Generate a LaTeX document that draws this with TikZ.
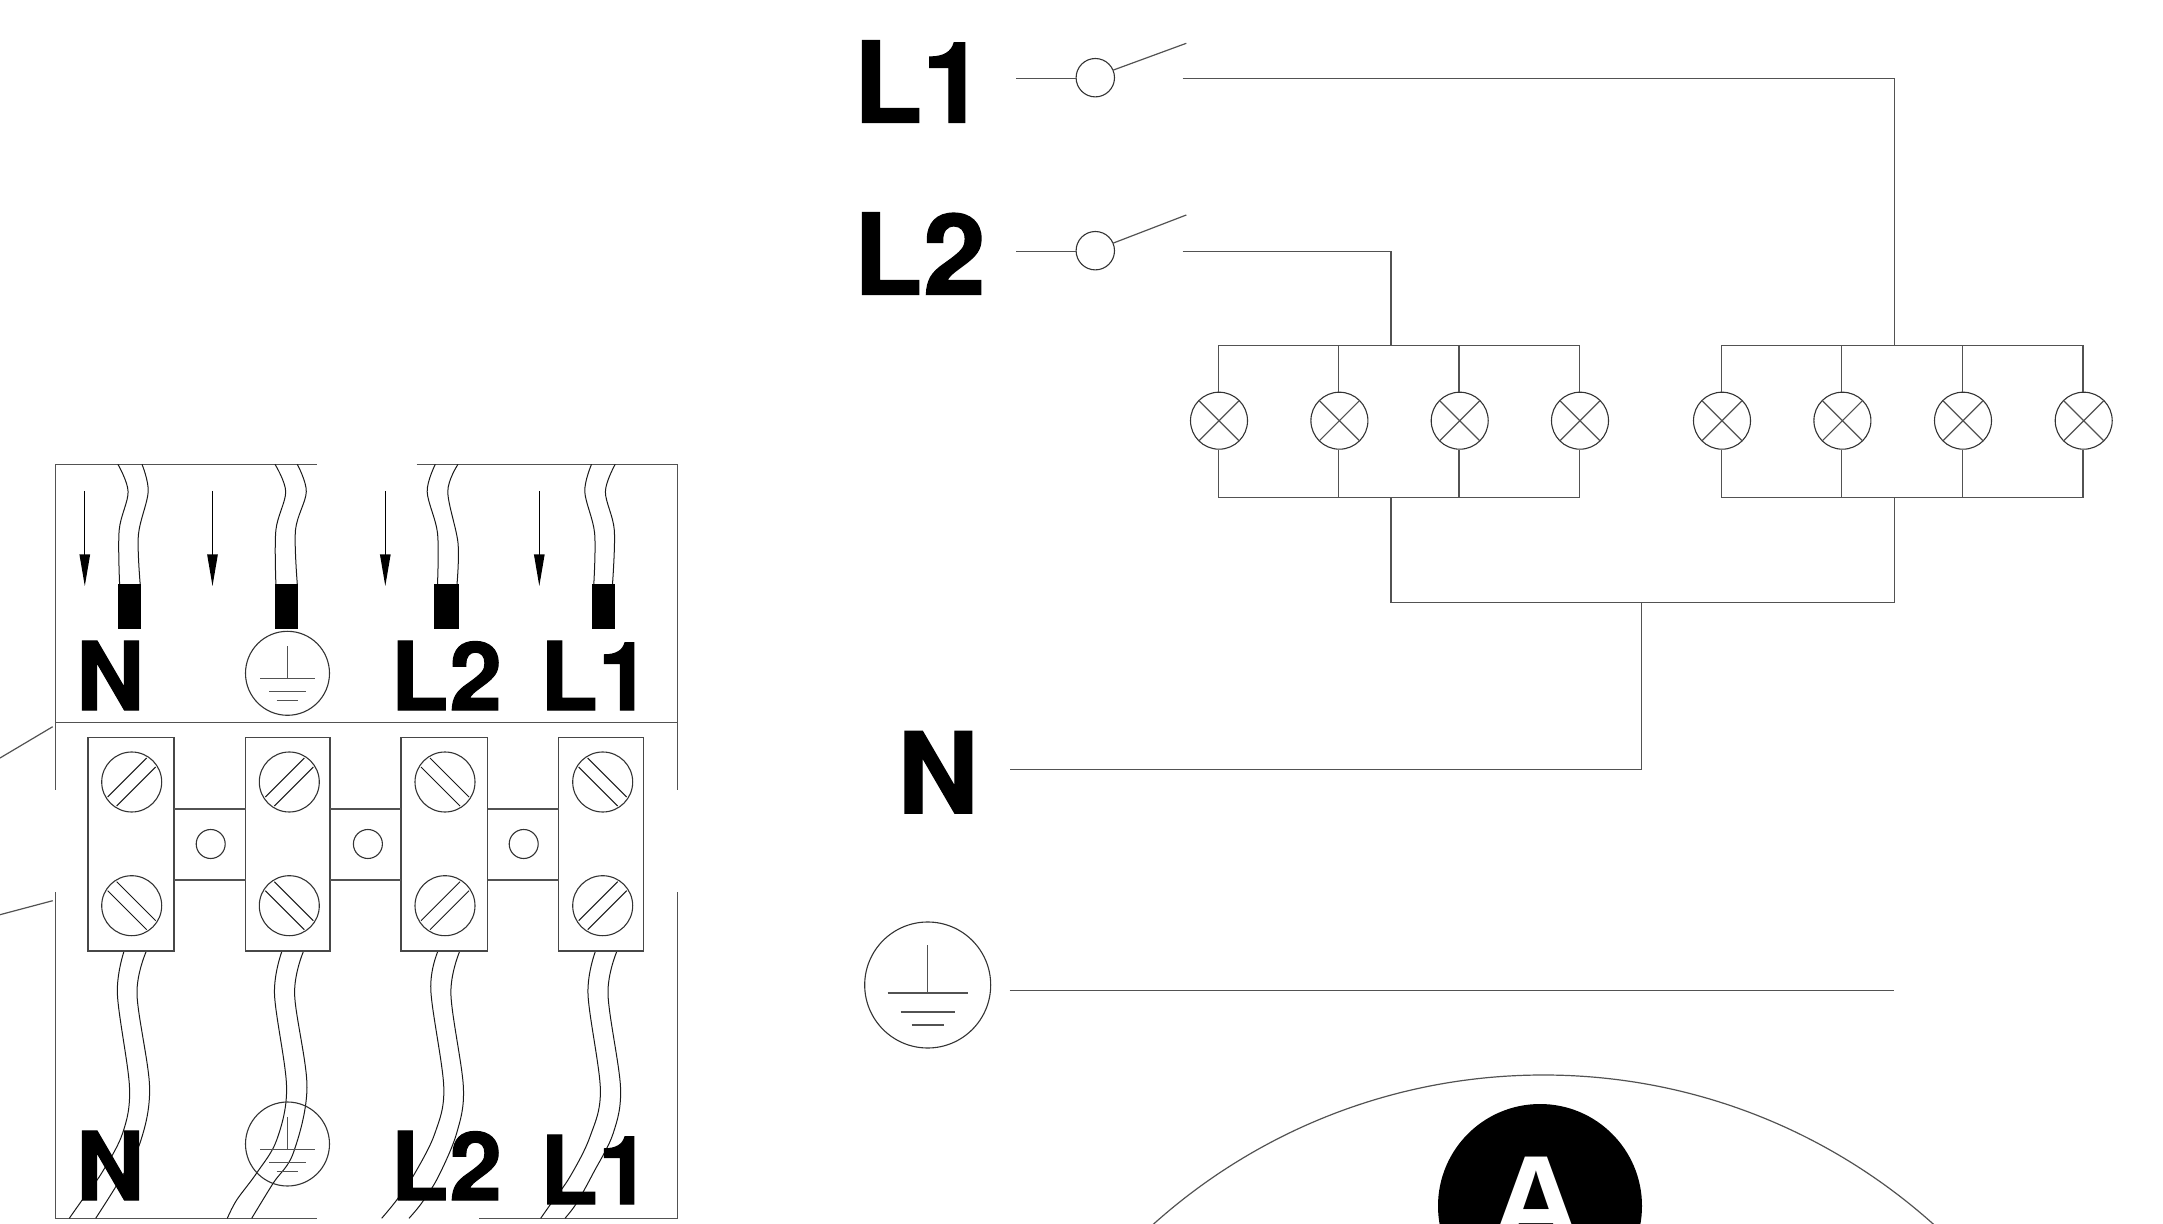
\documentclass[tikz,border=0pt]{standalone}
\usepackage{fontspec}
\setmainfont{Liberation Sans}
\newfontfamily\heavyf{TeX Gyre Heros}[BoldFeatures={FakeBold=1.2}]
\newcommand{\biglbl}{\fontsize{56.2}{56.2}\heavyf\bfseries}
\newcommand{\smalllbl}{\fontsize{47.4}{47.4}\heavyf\bfseries}
\newcommand{\pxwire}[1]{\draw[wire] plot[smooth,tension=0.55] coordinates {#1};}
\newcommand{\earthsym}[5]{% name,x,y,size,scale
  \node[ring,minimum size=#4] (#1) at (#2,#3) {};
  \begin{scope}[shift={(#2,#3)},scale=#5]
    \draw[ln] (0,-40) -- (0,8);
    \draw[ln] (-40,8) -- (40,8);
    \draw[ln] (-27,27) -- (27,27);
    \draw[ln] (-16,40) -- (16,40);
  \end{scope}
}
\tikzset{
  ln/.style={line width=0.6pt,draw=black!68},
  wire/.style={line width=0.5pt,draw=black!90},
  ring/.style={circle,draw=black!80,line width=0.55pt,inner sep=0pt,outer sep=0pt},
  lamp/.style={ring,minimum size=28.5pt},
  switchring/.style={ring,minimum size=19.2pt},
  screw/.style={ring,minimum size=30pt},
  pin/.style={ring,minimum size=14.5pt},
  termbox/.style={rectangle,draw=black!72,line width=0.55pt,inner sep=0pt,outer sep=0pt,minimum height=106.65pt},
  lbl/.style={inner sep=0pt,outer sep=0pt,anchor=base west,text=black},
}
\begin{document}
\begin{tikzpicture}[x=0.5pt,y=-0.5pt]
\useasboundingbox (0,0) rectangle (2163,1224);

% ---- terminal block enclosure
\coordinate (ctl) at (55.4,464.3);
\coordinate (ctm) at (316.5,464.3);
\coordinate (ctn) at (416.5,464.3);
\coordinate (ctr) at (677.7,464.3);
\coordinate (cml) at (55.4,722.7);
\coordinate (cmr) at (677.7,722.7);
\coordinate (cll) at (55.4,790);
\coordinate (clr) at (677.7,790);
\coordinate (cbl) at (55.4,892);
\coordinate (cbr) at (677.7,892);
\coordinate (cdl) at (55.4,1218.6);
\coordinate (cdm) at (316.5,1218.6);
\coordinate (cdn) at (478.6,1218.6);
\coordinate (cdr) at (677.7,1218.6);
\draw[ln] (ctm) -- (ctl) -- (cll);
\draw[ln] (ctn) -- (ctr) -- (clr);
\draw[ln] (cml) -- (cmr);
\draw[ln] (cbl) -- (cdl) -- (cdm);
\draw[ln] (cbr) -- (cdr) -- (cdn);
\coordinate (da1) at (52.7,726.7);
\coordinate (da2) at (0,758);
\coordinate (db1) at (52.7,900.7);
\coordinate (db2) at (0,914.7);
\draw[ln] (da1) -- (da2);
\draw[ln] (db1) -- (db2);

% ---- upper wires
\pxwire{(117.9,464.3)(128.1,491.7)(119.2,530)(119.6,584.3)}
\pxwire{(142,464.3)(148.2,491.7)(138.4,535)(140.2,584.3)}
\pxwire{(275,464.3)(285.7,491.7)(275.9,530)(275.9,584.3)}
\pxwire{(297.3,464.3)(306.3,491.7)(295.5,530)(297.3,584.3)}
\pxwire{(435.3,464.3)(427.2,491.7)(437.5,533)(437.5,584.3)}
\pxwire{(458,464.3)(447.8,491.7)(458,543)(457,584.3)}
\pxwire{(591.5,464.3)(584.8,491.7)(594.6,533)(593.8,584.3)}
\pxwire{(615.2,464.3)(605.4,491.7)(614.3,530)(612.5,584.3)}
% ferrules
\fill[black] (117.9,584.3) rectangle (141,629.3);
\fill[black] (275,584.3) rectangle (298,629.3);
\fill[black] (434.4,584.3) rectangle (459,629.3);
\fill[black] (592,584.3) rectangle (615,629.3);
% arrows
\foreach \ax in {84.8,212.5,385.3,539.3}{
  \draw[line width=0.55pt,black] (\ax,491) -- (\ax,556);
  \fill[black] (\ax-5.4,554.3) -- (\ax+5.4,554.3) -- (\ax,586) -- cycle;
}

% ---- lower wires
\pxwire{(124.1,951)(117.4,994)(129.5,1087.3)(122.7,1133)(101.7,1173)(81.7,1200.7)(69.3,1218.3)}
\pxwire{(146.4,951)(137,994)(149.6,1087.3)(140,1143)(118,1183)(95.7,1218.3)}
\pxwire{(282,951)(274.5,994)(286.6,1087.3)(276.7,1140)(256.7,1173)(236.7,1200)(227.3,1218.3)}
\pxwire{(303.6,951)(294.6,994)(307,1087.3)(293.3,1153)(273.3,1183)(251.7,1218.3)}
\pxwire{(438,951)(430.8,990)(443.8,1087.3)(435,1133)(415,1173)(396.7,1200)(381.7,1218.3)}
\pxwire{(459.8,951)(450.9,994)(463.4,1087.3)(456.7,1133)(438.3,1176.7)(421.7,1203)(409,1218.3)}
\pxwire{(595.5,951)(588,994)(600.4,1090)(590,1136.7)(570,1176.7)(550,1205)(540.7,1218.3)}
\pxwire{(617,951)(608,994)(620.5,1087.3)(613.3,1133)(593.3,1173)(576.7,1203)(565,1218.3)}

% ---- terminal boxes
\node[termbox,minimum width=43pt] (t1) at (131,844.3) {};
\node[termbox,minimum width=42.25pt] (t2) at (287.75,844.3) {};
\node[termbox,minimum width=43.25pt] (t3) at (444.25,844.3) {};
\node[termbox,minimum width=42.6pt] (t4) at (601.1,844.3) {};
\foreach \pa/\pb in {t1/t2,t2/t3,t3/t4}{
  \draw[ln] (\pa.east |- 0,809) -- (\pb.west |- 0,809);
  \draw[ln] (\pa.east |- 0,880) -- (\pb.west |- 0,880);
}
\node[pin] (p1) at (210.7,844) {};
\node[pin] (p2) at (367.9,844) {};
\node[pin] (p3) at (523.7,844) {};
% screws
\foreach \n/\sx/\sy/\sg in {a/131.7/782/1,b/289.3/782/1,c/445/782/-1,d/602.7/782/-1,
                            e/131.7/905.7/-1,f/289.3/905.7/-1,g/445/905.7/1,h/602.7/905.7/1}{
  \node[screw] (sc\n) at (\sx,\sy) {};
  \draw[wire,shift={(\sx,\sy)},xscale=\sg] (15,-24) -- (-24,15) (24,-15) -- (-15,24);
}

% ---- earth symbols of the terminal block
\earthsym{eu}{287.5}{673.3}{42pt}{0.68}
\earthsym{el}{287.5}{1144}{42pt}{0.68}

% ---- terminal labels
\node[lbl,font=\smalllbl] (tn) at (76,710) {N};
\node[lbl,font=\smalllbl] (tl2) at (390.5,710) {L\kern0.5pt 2};
\node[lbl,font=\smalllbl] (tl1) at (540,710) {L1};
\node[lbl,font=\smalllbl] (bn) at (76,1200) {N};
\node[lbl,font=\smalllbl] (bl2) at (390.5,1200) {L\kern0.5pt 2};
\node[lbl,font=\smalllbl] (bl1) at (540,1204) {L1};

% ---- schematic: labels
\node[lbl,font=\biglbl] (sl1) at (853.5,122.5) {L1};
\node[lbl,font=\biglbl] (sl2) at (853.5,294.5) {L\kern0.5pt 2};
\node[lbl,font=\biglbl] (sn) at (897.5,813.3) {N};

% ---- switches
\node[switchring] (sw1) at (1095.3,77.7) {};
\node[switchring] (sw2) at (1095.3,250.7) {};
\coordinate (sw1in) at (1016,78.7);
\coordinate (sw2in) at (1016,251.7);
\coordinate (sw1arm) at (1186.3,43.3);
\coordinate (sw2arm) at (1186.3,215);
\coordinate (sw1out) at (1182.5,78.7);
\coordinate (sw2out) at (1182.5,251.7);
\draw[ln] (sw1in) -- (sw1.west |- sw1in);
\draw[ln] (sw2in) -- (sw2.west |- sw2in);
\draw[ln] (sw1.23) -- (sw1arm);
\draw[ln] (sw2.23) -- (sw2arm);

% ---- lamp groups
\coordinate (ga) at (1391,345.3);
\coordinate (gb) at (1894.7,345.3);
\coordinate (ha) at (1391,497.7);
\coordinate (hb) at (1894.7,497.7);
\coordinate (nj) at (1641.6,602.3);
\coordinate (na) at (1391,602.3);
\coordinate (nb) at (1894.7,602.3);
\coordinate (nend) at (1641.6,769.3);
\coordinate (nin) at (1009.7,769.3);
\foreach \n/\lx in {1/1218.3,2/1338.7,3/1459,4/1579.3,5/1721.3,6/1841.7,7/1962.3,8/2083}{
  \node[lamp] (lp\n) at (\lx+0.7,420.7) {};
  \coordinate (tp\n) at (\lx,345.3);
  \coordinate (bt\n) at (\lx,497.7);
  \draw[ln] (tp\n) -- (\lx,392);
  \draw[ln] (\lx,450.5) -- (bt\n);
  \draw[ln] (lp\n.45) -- (lp\n.225) (lp\n.135) -- (lp\n.315);
}
\draw[ln] (tp1) -- (tp4);
\draw[ln] (bt1) -- (bt4);
\draw[ln] (tp5) -- (tp8);
\draw[ln] (bt5) -- (bt8);
\draw[ln] (sw1out) -- (gb |- sw1out) -- (gb);
\draw[ln] (sw2out) -- (ga |- sw2out) -- (ga);
\draw[ln] (ha) -- (na) -- (nb) -- (hb);
\draw[ln] (nj) -- (nend) -- (nin);

% ---- earth of the schematic
\earthsym{es}{927.7}{985}{63pt}{1.0}
\coordinate (ein) at (1009.7,990.3);
\coordinate (eend) at (1894,990.3);
\draw[ln] (ein) -- (eend);

% ---- logo, cut by the page edge
\begin{scope}
\clip (0,0) rectangle (2163,1224);
\draw[ln] (1543.4,1659.3) circle[radius=584.3];
\fill[black] (1540,1206) circle[radius=102];
\node[lbl,font=\fontsize{65}{65}\selectfont\bfseries,text=white] (logoA) at (1489.5,1246) {A};
\end{scope}
\end{tikzpicture}
\end{document}
